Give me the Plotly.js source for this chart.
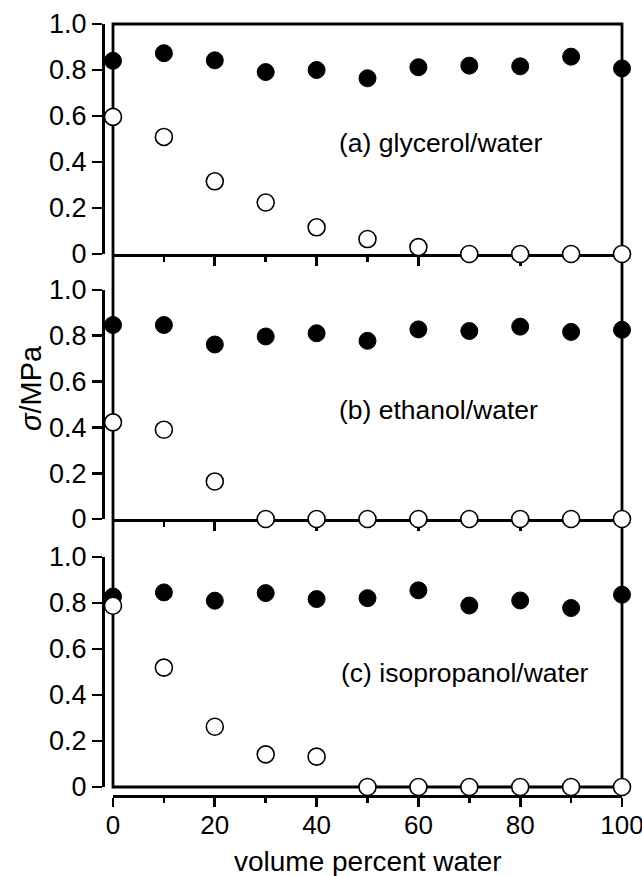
<!DOCTYPE html>
<html>
<head>
<meta charset="utf-8">
<script src="https://cdn.plot.ly/plotly-3.0.1.min.js"></script>
<style>html,body{margin:0;padding:0;background:#fff;}#chart{width:642px;height:876px;}</style>
</head>
<body>
<div id="chart"></div>
<script>
// Data
const waterPct = [0, 10, 20, 30, 40, 50, 60, 70, 80, 90, 100];
const glycerolFilled = [0.84, 0.873, 0.842, 0.791, 0.80, 0.764, 0.812, 0.819, 0.816, 0.858, 0.807];
const glycerolOpen   = [0.596, 0.509, 0.316, 0.224, 0.116, 0.065, 0.03, 0, 0, 0, 0];
const ethanolFilled  = [0.847, 0.847, 0.762, 0.797, 0.811, 0.778, 0.828, 0.821, 0.840, 0.817, 0.826];
const ethanolOpen    = [0.422, 0.39, 0.164, 0, 0, 0, 0, 0, 0, 0, 0];
const isoFilled      = [0.828, 0.846, 0.81, 0.843, 0.817, 0.821, 0.855, 0.789, 0.811, 0.778, 0.836];
const isoOpen        = [0.788, 0.519, 0.262, 0.142, 0.132, 0, 0, 0, 0, 0, 0];
const panelLabels = ['(a) glycerol/water', '(b) ethanol/water', '(c) isopropanol/water'];
const yTickVals = [0, 0.2, 0.4, 0.6, 0.8, 1.0];
const yTickText = ['0', '0.2', '0.4', '0.6', '0.8', '1.0'];
const xTickVals = [0, 20, 40, 60, 80, 100];
const xTickText = ['0', '20', '40', '60', '80', '100'];

const FONT = 'Liberation Sans, Arial, sans-serif';
const LW = 2.8;

function filled(x, y, xa, ya) {
  return {x: x, y: y, xaxis: xa, yaxis: ya, type: 'scatter', mode: 'markers', cliponaxis: false,
    marker: {size: 17, color: '#000', line: {color: '#000', width: 1}}, showlegend: false, hoverinfo: 'x+y'};
}
function open(x, y, xa, ya) {
  return {x: x, y: y, xaxis: xa, yaxis: ya, type: 'scatter', mode: 'markers', cliponaxis: false,
    marker: {size: 17, color: '#fff', line: {color: '#000', width: 1.6}}, showlegend: false, hoverinfo: 'x+y'};
}

const data = [
  filled(waterPct, glycerolFilled, 'x', 'y'),
  open(waterPct, glycerolOpen, 'x', 'y'),
  filled(waterPct, ethanolFilled, 'x2', 'y2'),
  open(waterPct, ethanolOpen, 'x2', 'y2'),
  filled(waterPct, isoFilled, 'x3', 'y3'),
  open(waterPct, isoOpen, 'x3', 'y3')
];

const W = 642, H = 876;
const mL = 103, mR = 20, mT = 24, mB = 80;
const pw = W - mL - mR, ph = H - mT - mB;
const px = v => (v - mL) / pw;
const py = v => (H - mB - v) / ph;

const xDom = [px(113), 1];

function yAx(dom) {
  return {domain: dom, anchor: 'free', position: 0, range: [0, 1], showline: true, linewidth: LW,
    linecolor: '#000', ticks: 'outside', ticklen: 10, tickwidth: LW, tickcolor: '#000',
    tickvals: yTickVals, ticktext: yTickText, tickfont: {family: FONT, size: 27, color: '#000'},
    showgrid: false, zeroline: false, fixedrange: true};
}
function xTop(anchor) {
  return {domain: xDom, anchor: anchor, range: [0, 100], showline: true, linewidth: LW, linecolor: '#000',
    ticks: 'outside', tick0: 0, dtick: 20, ticklen: 9, tickwidth: LW, tickcolor: '#000',
    minor: {dtick: 10, ticks: 'outside', ticklen: 5, tickwidth: LW, tickcolor: '#000'},
    showticklabels: false, showgrid: false, zeroline: false, layer: 'below traces', fixedrange: true};
}

const layout = {
  width: W, height: H,
  margin: {l: mL, r: mR, t: mT, b: mB, pad: 0},
  paper_bgcolor: '#fff', plot_bgcolor: 'rgba(0,0,0,0)',
  font: {family: FONT, color: '#000'},
  showlegend: false,
  xaxis: xTop('y'),
  xaxis2: xTop('y2'),
  xaxis3: {domain: xDom, anchor: 'free', position: 0, range: [0, 100], showline: true, linewidth: LW,
    linecolor: '#000', ticks: 'outside', ticklen: 9, tickwidth: LW, tickcolor: '#000',
    tickvals: xTickVals, ticktext: xTickText, ticklabeloverflow: 'allow', ticklabelstandoff: -4,
    minor: {dtick: 10, ticks: 'outside', ticklen: 5, tickwidth: LW, tickcolor: '#000'},
    tickfont: {family: FONT, size: 26, color: '#000'}, showgrid: false, zeroline: false, fixedrange: true},
  yaxis: yAx([py(254), py(24)]),
  yaxis2: yAx([py(519), py(290)]),
  yaxis3: yAx([py(787), py(557)]),
  shapes: [
    {type: 'rect', xref: 'paper', yref: 'paper', x0: px(113), x1: 1, y0: py(787), y1: 1,
      line: {color: '#000', width: LW}, layer: 'below'}
  ],
  annotations: [
    {text: panelLabels[0], xref: 'x', yref: 'y', x: 44.0, y: 0.483, xanchor: 'left', yanchor: 'middle',
      showarrow: false, font: {family: FONT, size: 26.5, color: '#000'}},
    {text: panelLabels[1], xref: 'x2', yref: 'y2', x: 44.0, y: 0.477, xanchor: 'left', yanchor: 'middle',
      showarrow: false, font: {family: FONT, size: 26.5, color: '#000'}},
    {text: panelLabels[2], xref: 'x3', yref: 'y3', x: 44.4, y: 0.494, xanchor: 'left', yanchor: 'middle',
      showarrow: false, font: {family: FONT, size: 26.5, color: '#000'}},
    {text: '<i>σ</i>/MPa', xref: 'paper', yref: 'paper', x: px(31), y: py(388), xanchor: 'center', yanchor: 'middle',
      textangle: -90, showarrow: false, font: {family: FONT, size: 29, color: '#000'}},
    {text: 'volume percent water', xref: 'paper', yref: 'paper', x: px(367.5), y: py(861), xanchor: 'center', yanchor: 'middle',
      showarrow: false, font: {family: FONT, size: 28, color: '#000'}}
  ]
};

Plotly.newPlot('chart', data, layout, {staticPlot: true, displayModeBar: false});
</script>
</body>
</html>
